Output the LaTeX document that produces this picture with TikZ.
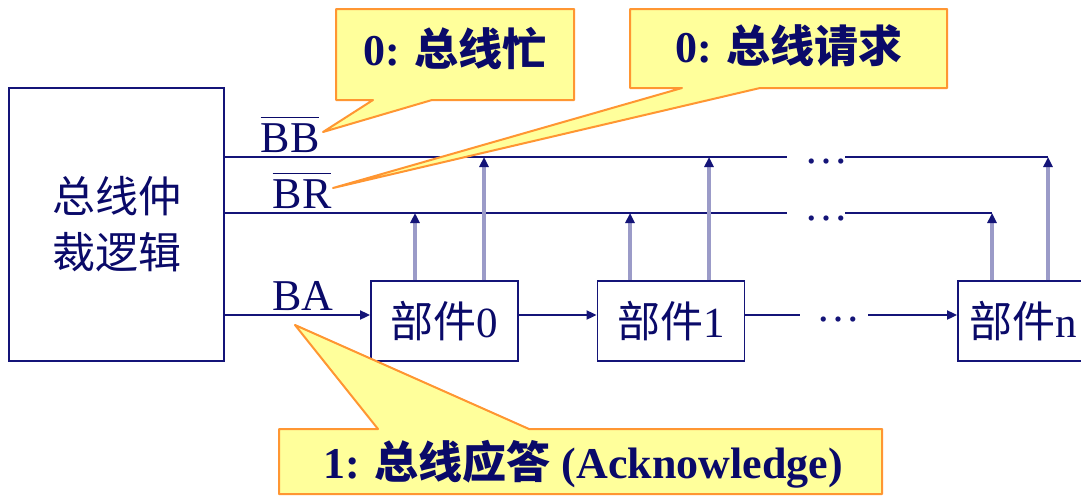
\documentclass[tikz,border=0pt]{standalone}
\usepackage{fontspec}
\setmainfont{Liberation Serif}
\newfontfamily\cjk{Noto Sans CJK SC}
\usetikzlibrary{arrows.meta}
\definecolor{navy}{RGB}{20,20,120}
\definecolor{txtnavy}{RGB}{10,10,105}
\definecolor{lav}{RGB}{155,155,200}
\definecolor{cofill}{RGB}{255,255,155}
\definecolor{coedge}{RGB}{255,150,50}
\newcommand\sigbar[1]{\ensuremath{\overline{\rule{0pt}{0.76em}\mbox{#1}}}}
\begin{document}
\begin{tikzpicture}[x=1pt,y=-1pt,
  wire/.style={draw=navy,line width=1.8pt},
  harrow/.style={wire,-{Triangle[length=10pt,width=9pt]}},
  uparrow/.style={draw=lav,line width=3.6pt,-{Triangle[length=10pt,width=9pt,color=navy]}},
  blk/.style={draw=navy,line width=1.8pt,fill=white,text=txtnavy,inner sep=0pt,
    align=center,font=\fontsize{43}{56}\selectfont},
  sig/.style={text=txtnavy,inner sep=0pt,anchor=base,font=\fontsize{44}{50}\selectfont},
  dots/.style={text=navy,inner sep=0pt,anchor=base,font=\fontsize{44}{50}\selectfont},
  co/.style={fill=cofill,draw=coedge,line width=2pt,line join=round},
  cotext/.style={text=txtnavy,inner sep=0pt,font=\bfseries\fontsize{44}{50}\selectfont}]
\useasboundingbox (0,0) rectangle (1081,496);
\fill[white] (0,0) rectangle (1081,496);

% blocks
\node[blk,minimum width=215pt,minimum height=273pt] (arb) at (116.5,224.5) {{\cjk 总线仲}\\{\cjk 裁逻辑}};
\node[blk,minimum width=147pt,minimum height=80pt] (c0) at (444.5,321) {{\cjk 部件}0};
\node[blk,minimum width=147pt,minimum height=80pt] (c1) at (671,321) {{\cjk 部件}1};
\node[blk,minimum width=130pt,minimum height=80pt] (cn) at (1023,321) {{\cjk 部件}n};

% bus coordinates
\coordinate (bbL) at (224,157);
\coordinate (bbA) at (787,157);
\coordinate (bbB) at (845,157);
\coordinate (bbR) at (1048,157);
\coordinate (brL) at (224,213);
\coordinate (brA) at (787,213);
\coordinate (brB) at (845,213);
\coordinate (brR) at (992,213);
\coordinate (baL) at (224,315);
\coordinate (baA) at (800,315);
\coordinate (baB) at (868,315);

% bus lines
\draw[wire] (bbL) -- (bbA);
\draw[wire] (bbB) -- (bbR);
\draw[wire] (brL) -- (brA);
\draw[wire] (brB) -- (brR);
\draw[harrow] (baL) -- (baL -| c0.west);
\draw[harrow] (c0.east |- baL) -- (c1.west |- baL);
\draw[wire,line width=2.4pt] (c1.east |- baL) -- (baA);
\draw[harrow] (baB) -- (cn.west |- baB);

% dots
\node[dots] (d1) at (826,163) {…};
\node[dots] (d2) at (826,220) {…};
\node[dots] (d3) at (838,321) {…};

% vertical request arrows
\draw[uparrow] (415,0 |- c0.north) -- (415,0 |- brL);
\draw[uparrow] (484,0 |- c0.north) -- (484,0 |- bbL);
\draw[uparrow] (630,0 |- c1.north) -- (630,0 |- brL);
\draw[uparrow] (709,0 |- c1.north) -- (709,0 |- bbL);
\draw[uparrow] (992,0 |- cn.north) -- (992,0 |- brR);
\draw[uparrow] (1048,0 |- cn.north) -- (1048,0 |- bbR);

% signal labels
\node[sig] (lbb) at (290,152) {\sigbar{BB}};
\node[sig] (lbr) at (302,208) {\sigbar{BR}};
\node[sig] (lba) at (303,310) {BA};

% callouts
\coordinate (p1) at (323,132);
\coordinate (p2) at (333,188);
\coordinate (p3) at (295,325);
\path[co] (336,9) -- (574,9) -- (574,100) -- (432,100) -- (p1) -- (373,100) -- (336,100) -- cycle;
\path[co] (630,9) -- (947,9) -- (947,88) -- (760,88) -- (p2) -- (682,88) -- (630,88) -- cycle;
\path[co] (279,429) -- (378,429) -- (p3) -- (529,429) -- (882,429) -- (882,494) -- (279,494) -- cycle;
\node[cotext] (t1) at (455,48) {0: {\cjk 总线忙}};
\node[cotext] (t2) at (789,46) {0: {\cjk 总线请求}};
\node[cotext] (t3) at (583,464) {1: {\cjk 总线应答} (Acknowledge)};
\end{tikzpicture}
\end{document}
